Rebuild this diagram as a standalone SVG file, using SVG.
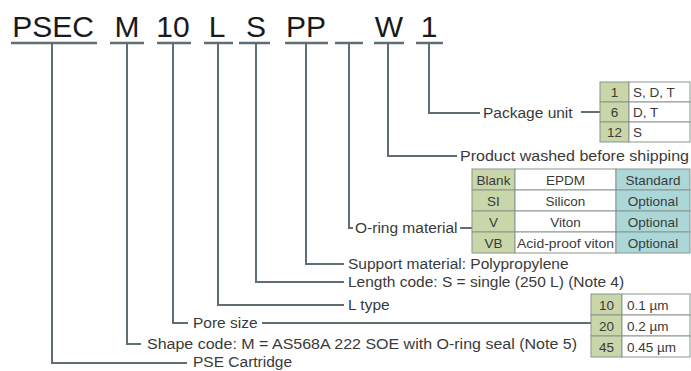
<svg xmlns="http://www.w3.org/2000/svg" width="691" height="371" viewBox="0 0 691 371">
<style>
.code{font-family:"Liberation Sans",Arial,sans-serif;font-size:30px;fill:#1a1a1a;text-anchor:middle}
.lbl{font-family:"Liberation Sans",Arial,sans-serif;font-size:15.5px;fill:#3a3a3a}
.cell{font-family:"Liberation Sans",Arial,sans-serif;font-size:13.5px;fill:#3a3a3a}
.mid{text-anchor:middle}
.ln{fill:none;stroke:#5f6e72;stroke-width:2}
.ul{stroke:#5f6e72;stroke-width:2.5}
.g{fill:#c8d6a9;stroke:#8a958c;stroke-width:1}
.w{fill:#ffffff;stroke:#8a958c;stroke-width:1}
.t{fill:#acd7d8;stroke:#8a958c;stroke-width:1}
</style>
<rect width="691" height="371" fill="#ffffff"/>
<g id="code">
<text class="code" x="53" y="37">PSEC</text>
<text class="code" x="127" y="37">M</text>
<text class="code" x="173" y="37">10</text>
<text class="code" x="217" y="37">L</text>
<text class="code" x="256" y="37">S</text>
<text class="code" x="306" y="37">PP</text>
<text class="code" x="389" y="37">W</text>
<text class="code" x="429" y="37">1</text>
<line class="ul" x1="11" y1="43" x2="97" y2="43"/>
<line class="ul" x1="110" y1="43" x2="144" y2="43"/>
<line class="ul" x1="157" y1="43" x2="191" y2="43"/>
<line class="ul" x1="204" y1="43" x2="233" y2="43"/>
<line class="ul" x1="239" y1="43" x2="270" y2="43"/>
<line class="ul" x1="285" y1="43" x2="328" y2="43"/>
<line class="ul" x1="335" y1="43" x2="363" y2="43"/>
<line class="ul" x1="374" y1="43" x2="404" y2="43"/>
<line class="ul" x1="416" y1="43" x2="443" y2="43"/>
</g>
<g id="connectors">
<polyline class="ln" points="429,43 429,113 480,113"/>
<line class="ln" x1="581" y1="112" x2="600" y2="112"/>
<polyline class="ln" points="388,43 388,156 457,156"/>
<polyline class="ln" points="349,43 349,228 353,228"/>
<line class="ln" x1="460" y1="228" x2="472" y2="228"/>
<polyline class="ln" points="306,43 306,264 344,264"/>
<polyline class="ln" points="256,43 256,282 344,282"/>
<polyline class="ln" points="218,43 218,305 344,305"/>
<polyline class="ln" points="173,43 173,323 188,323"/>
<line class="ln" x1="262" y1="323" x2="591" y2="323"/>
<polyline class="ln" points="127,43 127,344 141,344"/>
<polyline class="ln" points="52,43 52,363 187,363"/>
</g>
<g id="package-unit">
<text class="lbl" x="483" y="118">Package unit</text>
<rect class="g" x="600" y="82" width="29" height="20"/>
<rect class="w" x="629" y="82" width="61" height="20"/>
<rect class="g" x="600" y="102" width="29" height="20"/>
<rect class="w" x="629" y="102" width="61" height="20"/>
<rect class="g" x="600" y="122" width="29" height="20"/>
<rect class="w" x="629" y="122" width="61" height="20"/>
<text class="cell mid" x="614.5" y="97">1</text>
<text class="cell" x="633" y="97">S, D, T</text>
<text class="cell mid" x="614.5" y="117">6</text>
<text class="cell" x="633" y="117">D, T</text>
<text class="cell mid" x="614.5" y="137">12</text>
<text class="cell" x="633" y="137">S</text>
</g>
<g id="washed">
<text class="lbl" x="460" y="161" textLength="229" lengthAdjust="spacingAndGlyphs">Product washed before shipping</text>
</g>
<g id="oring">
<text class="lbl" x="355" y="233">O-ring material</text>
<rect class="g" x="472" y="169" width="43" height="21"/>
<rect class="w" x="515" y="169" width="101" height="21"/>
<rect class="t" x="616" y="169" width="74" height="21"/>
<rect class="g" x="472" y="190" width="43" height="21"/>
<rect class="w" x="515" y="190" width="101" height="21"/>
<rect class="t" x="616" y="190" width="74" height="21"/>
<rect class="g" x="472" y="211" width="43" height="21"/>
<rect class="w" x="515" y="211" width="101" height="21"/>
<rect class="t" x="616" y="211" width="74" height="21"/>
<rect class="g" x="472" y="232" width="43" height="21"/>
<rect class="w" x="515" y="232" width="101" height="21"/>
<rect class="t" x="616" y="232" width="74" height="21"/>
<text class="cell mid" x="493.5" y="184.5">Blank</text>
<text class="cell mid" x="565.5" y="184.5">EPDM</text>
<text class="cell mid" x="653" y="184.5">Standard</text>
<text class="cell mid" x="493.5" y="205.5">SI</text>
<text class="cell mid" x="565.5" y="205.5">Silicon</text>
<text class="cell mid" x="653" y="205.5">Optional</text>
<text class="cell mid" x="493.5" y="226.5">V</text>
<text class="cell mid" x="565.5" y="226.5">Viton</text>
<text class="cell mid" x="653" y="226.5">Optional</text>
<text class="cell mid" x="493.5" y="247.5">VB</text>
<text class="cell mid" x="565.5" y="247.5" textLength="97" lengthAdjust="spacingAndGlyphs">Acid-proof viton</text>
<text class="cell mid" x="653" y="247.5">Optional</text>
</g>
<g id="support">
<text class="lbl" x="348" y="269">Support material: Polypropylene</text>
</g>
<g id="length">
<text class="lbl" x="348" y="287">Length code: S = single (250 L) (Note 4)</text>
</g>
<g id="ltype">
<text class="lbl" x="348" y="310">L type</text>
</g>
<g id="pore">
<text class="lbl" x="193" y="328">Pore size</text>
<rect class="g" x="591" y="294" width="31" height="21"/>
<rect class="w" x="622" y="294" width="68" height="21"/>
<rect class="g" x="591" y="315" width="31" height="21"/>
<rect class="w" x="622" y="315" width="68" height="21"/>
<rect class="g" x="591" y="336" width="31" height="21"/>
<rect class="w" x="622" y="336" width="68" height="21"/>
<text class="cell mid" x="606.5" y="309.5">10</text>
<text class="cell" x="627" y="309.5">0.1 µm</text>
<text class="cell mid" x="606.5" y="330.5">20</text>
<text class="cell" x="627" y="330.5">0.2 µm</text>
<text class="cell mid" x="606.5" y="351.5">45</text>
<text class="cell" x="627" y="351.5">0.45 µm</text>
</g>
<g id="shape">
<text class="lbl" x="147" y="349" textLength="430" lengthAdjust="spacingAndGlyphs">Shape code: M = AS568A 222 SOE with O-ring seal (Note 5)</text>
</g>
<g id="pse">
<text class="lbl" x="193" y="367">PSE Cartridge</text>
</g>
</svg>
